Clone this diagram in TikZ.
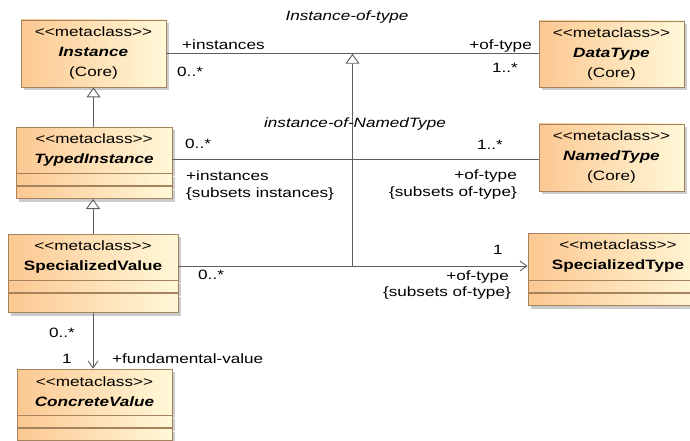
\documentclass[tikz,border=0pt]{standalone}
\usepackage{fontspec}
\setmainfont{Liberation Sans}[FakeStretch=1.27]
\usetikzlibrary{arrows.meta,shadows,calc}
\definecolor{clsleft}{HTML}{FCC892}
\definecolor{clsright}{HTML}{FFF8D8}
\definecolor{clsline}{HTML}{A5835C}
\definecolor{assocline}{HTML}{5E5E5E}
\newcommand{\stereo}{<{}<metaclass>{}>}

\begin{document}
\begin{tikzpicture}[x=1pt, y=-1pt, every node/.style={font=\fontsize{13.5}{20}\selectfont, inner sep=0pt}]
    \tikzstyle{cls}=[draw=clsline, line width=0.8pt, left color=clsleft, right color=clsright, align=center,
        drop shadow={shadow xshift=3pt, shadow yshift=-3pt, fill=black!20, opacity=1}]
    \tikzstyle{assoc}=[draw=assocline, line width=0.9pt]
    \tikzstyle{gen}=[assoc, -{Triangle[open, length=10pt, width=14pt]}]
    \tikzstyle{nav}=[assoc, -{Straight Barb[length=7pt, width=10pt]}]
    \tikzstyle{aname}=[font=\fontsize{13.5}{20}\selectfont\itshape]

    \useasboundingbox (0,0) rectangle (690,441);

    % classes
    \node[cls, minimum width=145pt, minimum height=67pt] (inst) at (93.5,53.5) {\stereo\\\textbf{\textit{Instance}}\\(Core)};
    \node[cls, minimum width=145pt, minimum height=66pt] (dtype) at (611.5,54) {\stereo\\\textbf{\textit{DataType}}\\(Core)};
    \node[cls, minimum width=145pt, minimum height=67pt] (ntype) at (611.5,157.5) {\stereo\\\textbf{\textit{NamedType}}\\(Core)};
    \node[cls, minimum width=156pt, minimum height=46pt] (tinst) at (94,150) {\stereo\\\textbf{\textit{TypedInstance}}};
    \node[cls, minimum width=170pt, minimum height=46pt] (sval) at (93,257) {\stereo\\\textbf{SpecializedValue}};
    \node[cls, minimum width=155pt, minimum height=46pt] (cval) at (94.5,392) {\stereo\\\textbf{\textit{ConcreteValue}}};
    \node[cls, minimum width=180pt, minimum height=47pt] (stype) at (618,256.5) {\stereo\\\textbf{SpecializedType}};

    \foreach \n/\w/\hb in {tinst/156/12, sval/170/19, cval/155/12, stype/180/12} {
        \node[cls, anchor=north, minimum width=\w pt, minimum height=12pt] (\n-a) at (\n.south) {};
        \node[cls, anchor=north, minimum width=\w pt, minimum height=\hb pt] (\n-b) at (\n-a.south) {};
    }

    % connectors
    \path ([yshift=-9pt]tinst.east) coordinate (ti-r) ([yshift=-9pt]sval.east) coordinate (sv-r);
    \coordinate (gtop) at ($(inst.east)!0.5!(dtype.west)$);

    \draw[gen] (tinst.north -| inst.south) -- (inst.south);
    \draw[gen] (sval.north) -- (sval.north |- tinst-b.south);
    \draw[nav] (sval-b.south) -- (sval-b.south |- cval.north);
    \draw[assoc] (inst.east) -- (inst.east -| dtype.west);
    \draw[assoc] (ti-r) -- (ti-r -| ntype.west);
    \draw[nav] (sv-r) -- (sv-r -| stype.west);
    \draw[gen] (gtop |- sv-r) -- (gtop);

    % labels
    \node[aname, anchor=base] (l-iot) at (347,21) {Instance-of-type};
    \node[anchor=base west] (l-inst) at (182,50) {+instances};
    \node[anchor=base west] (l-inst-m) at (177,77) {0..*};
    \node[anchor=base east] (l-dt) at (532,50) {+of-type};
    \node[anchor=base east] (l-dt-m) at (518,73) {1..*};

    \node[aname, anchor=base] (l-ion) at (355,128) {instance-of-NamedType};
    \node[anchor=base west] (l-ti-m) at (185,148) {0..*};
    \node[anchor=base west] (l-ti) at (186,180) {+instances};
    \node[anchor=base west] (l-ti-s) at (186,197) {\{subsets instances\}};
    \node[anchor=base east] (l-nt-m) at (503,149) {1..*};
    \node[anchor=base east] (l-nt) at (517,179) {+of-type};
    \node[anchor=base east] (l-nt-s) at (517,196) {\{subsets of-type\}};

    \node[anchor=base west] (l-sv-m) at (198,279) {0..*};
    \node[anchor=base] (l-st-m) at (498,254) {1};
    \node[anchor=base east] (l-st) at (509,280) {+of-type};
    \node[anchor=base east] (l-st-s) at (511,296) {\{subsets of-type\}};

    \node[anchor=base] (l-cv-m) at (62,337) {0..*};
    \node[anchor=base] (l-cv-o) at (67,363) {1};
    \node[anchor=base west] (l-cv) at (112,363) {+fundamental-value};

\end{tikzpicture}
\end{document}
